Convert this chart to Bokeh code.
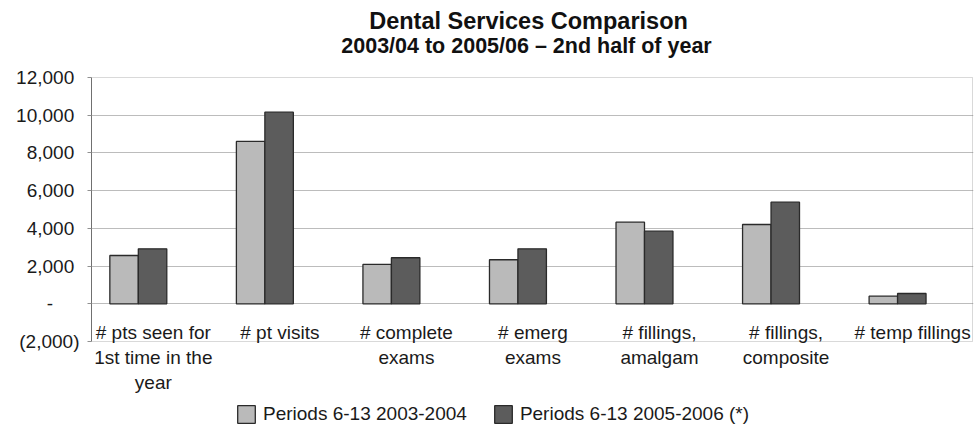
from bokeh.plotting import figure
from bokeh.models import (ColumnDataSource, Range1d, LabelSet, Label, Legend, LegendItem,
                          FixedTicker, BoxAnnotation)
from bokeh.core.properties import value
from bokeh.embed import file_html
from bokeh.resources import INLINE

# ---- data ----
categories = ["# pts seen for\n1st time in the\nyear", "# pt visits", "# complete\nexams",
              "# emerg\nexams", "# fillings,\namalgam", "# fillings,\ncomposite",
              "# temp fillings"]
series_names = ["Periods 6-13 2003-2004", "Periods 6-13 2005-2006 (*)"]
values_0304 = [2560, 8610, 2085, 2335, 4330, 4205, 405]
values_0506 = [2915, 10160, 2440, 2915, 3850, 5390, 545]
y_ticks = [-2000, 0, 2000, 4000, 6000, 8000, 10000, 12000]
y_tick_labels = ["(2,000)", "-\u2007\u2007\u2008", "2,000\u2008", "4,000\u2008", "6,000\u2008",
                 "8,000\u2008", "10,000\u2008", "12,000\u2008"]
title_text = "Dental Services Comparison"
subtitle_text = "2003/04 to 2005/06 \u2013 2nd half of year"

# ---- layout / style ----
FONT = "Liberation Sans"
LIGHT = "#bababa"
DARK = "#5c5c5c"
EDGE = "#2a2a2a"
TXT = "#1a1a1a"

W, H = 977, 436
LEFT, RIGHT = 91, 4
AX_MIN, AX_MAX = y_ticks[0], y_ticks[-1]
PLOT_TOP_PX, PLOT_BOT_PX = 77, 341
upp = (AX_MAX - AX_MIN) / (PLOT_BOT_PX - PLOT_TOP_PX)   # data units per pixel
y_hi = AX_MAX + PLOT_TOP_PX * upp
y_lo = AX_MIN - (H - PLOT_BOT_PX) * upp
x_lo, x_hi = -0.37, 6.6
ppu_x = (W - LEFT - RIGHT) / (x_hi - x_lo)


def py(px):
    return y_hi - px * upp


def px_x(px):
    return x_lo + (px - LEFT) / ppu_x


idx = list(range(len(categories)))
bw = 0.225

p = figure(width=W, height=H, output_backend="svg", toolbar_location=None,
           x_range=Range1d(x_lo, x_hi), y_range=Range1d(y_lo, y_hi),
           x_axis_location=None, min_border_left=LEFT, min_border_right=RIGHT,
           min_border_bottom=0, min_border_top=0)
p.background_fill_color = "white"
p.border_fill_color = "white"
p.outline_line_color = None

p.xgrid.visible = False
p.ygrid.ticker = FixedTicker(ticks=y_ticks[1:-1])
p.ygrid.grid_line_color = "#bcbcbc"
p.ygrid.grid_line_width = 1

ax = p.yaxis[0]
ax.ticker = FixedTicker(ticks=y_ticks)
ax.bounds = (AX_MIN, AX_MAX)
ax.major_label_overrides = {t: l for t, l in zip(y_ticks, y_tick_labels)}
ax.major_label_text_font = FONT
ax.major_label_text_font_size = "19px"
ax.major_label_text_color = TXT
ax.axis_line_color = "#707070"
ax.major_tick_line_color = "#909090"
ax.major_tick_out = 4
ax.major_tick_in = 0
ax.minor_tick_line_color = None
ax.major_label_standoff = 8

# plot-area border
p.add_layout(BoxAnnotation(left=x_lo, right=x_hi - 1.0 / ppu_x, bottom=AX_MIN, top=AX_MAX,
                           fill_alpha=0, line_color="#808080", line_width=1,
                           level="underlay"))

src1 = ColumnDataSource(dict(x=[i - bw / 2 for i in idx], top=values_0304))
src2 = ColumnDataSource(dict(x=[i + bw / 2 for i in idx], top=values_0506))
r1 = p.vbar(x="x", top="top", bottom=0, width=bw, source=src1,
            fill_color=LIGHT, line_color=EDGE, line_width=1.3)
r2 = p.vbar(x="x", top="top", bottom=0, width=bw, source=src2,
            fill_color=DARK, line_color=EDGE, line_width=1.3)

# category labels, one row per text line so that every line is centred
LINE_PX = 25
lx, ly, lt = [], [], []
for i, cat in zip(idx, categories):
    for j, line in enumerate(cat.split("\n")):
        lx.append(i)
        ly.append(py(332 + j * LINE_PX))
        lt.append(line)
lab_src = ColumnDataSource(dict(x=lx, y=ly, text=lt))
labels = LabelSet(x="x", y="y", text="text", source=lab_src, x_offset=15,
                  text_align="center", text_baseline="middle", text_font=value(FONT),
                  text_font_size="19px", text_color=TXT)
p.add_layout(labels)

legend = Legend(items=[LegendItem(label=series_names[0], renderers=[r1]),
                       LegendItem(label=series_names[1], renderers=[r2])],
                orientation="horizontal", location=(235 - LEFT, H - 425),
                border_line_color=None, background_fill_alpha=0, padding=0,
                spacing=25, label_standoff=6, glyph_width=22, glyph_height=22,
                label_text_font=FONT, label_text_font_size="19px",
                label_text_color=TXT, margin=0)
p.add_layout(legend)

p.add_layout(Label(x=px_x(528), y=py(20), text=title_text, text_align="center",
                   text_baseline="middle", text_font=FONT, text_font_size="23.5px",
                   text_font_style="bold", text_color="#111111"))
p.add_layout(Label(x=px_x(526), y=py(45.5), text=subtitle_text, text_align="center",
                   text_baseline="middle", text_font=FONT, text_font_size="21.5px",
                   text_font_style="bold", text_color="#111111"))

open("out.html", "w").write(file_html(p, INLINE))
